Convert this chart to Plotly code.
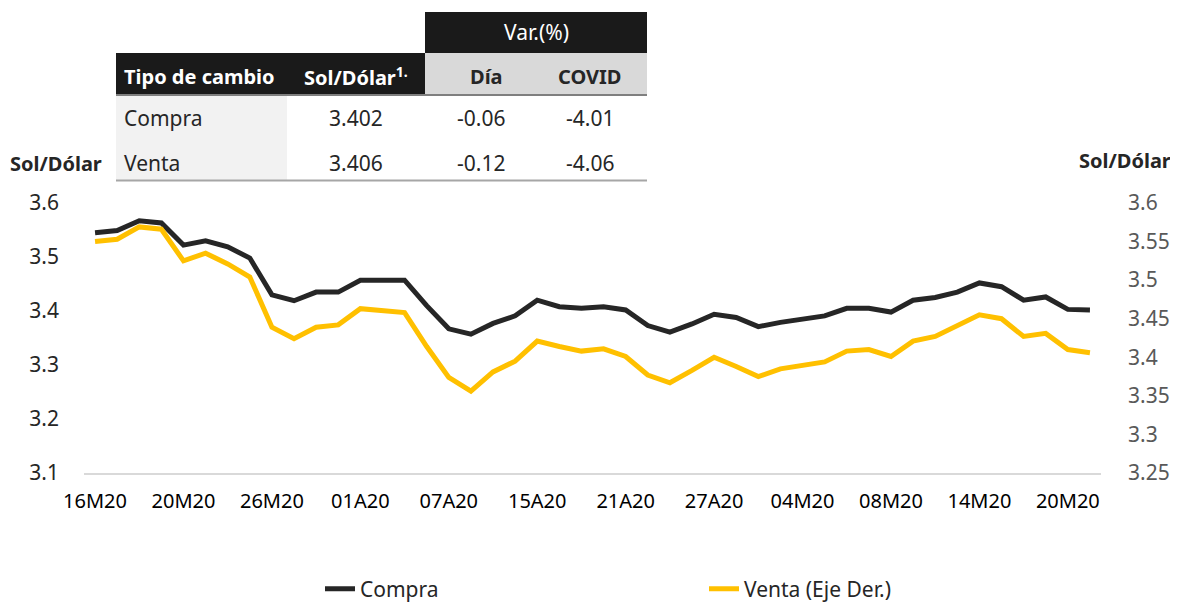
import plotly.graph_objects as go

# ---------------- data ----------------
dates = ["16M20", "17M20", "18M20", "19M20", "20M20", "23M20", "24M20", "25M20",
         "26M20", "27M20", "30M20", "31M20", "01A20", "02A20", "03A20", "06A20",
         "07A20", "08A20", "13A20", "14A20", "15A20", "16A20", "17A20", "20A20",
         "21A20", "22A20", "23A20", "24A20", "27A20", "28A20", "29A20", "30A20",
         "04M20", "05M20", "06M20", "07M20", "08M20", "11M20", "12M20", "13M20",
         "14M20", "15M20", "18M20", "19M20", "20M20", "21M20"]

compra = [3.545, 3.549, 3.567, 3.563, 3.522, 3.530, 3.519, 3.498,
          3.430, 3.419, 3.435, 3.435, 3.457, 3.457, 3.457, 3.410,
          3.367, 3.357, 3.377, 3.391, 3.420, 3.408, 3.405, 3.408,
          3.402, 3.373, 3.361, 3.376, 3.394, 3.388, 3.371, 3.379,
          3.386, 3.391, 3.405, 3.405, 3.398, 3.420, 3.425, 3.435,
          3.452, 3.445, 3.420, 3.426, 3.403, 3.402]

venta = [3.550, 3.553, 3.569, 3.566, 3.525, 3.535, 3.521, 3.504,
         3.439, 3.424, 3.439, 3.442, 3.463, 3.460, 3.458, 3.414,
         3.374, 3.356, 3.381, 3.395, 3.421, 3.414, 3.408, 3.411,
         3.401, 3.377, 3.367, 3.383, 3.400, 3.388, 3.375, 3.385,
         3.389, 3.394, 3.408, 3.410, 3.401, 3.421, 3.427, 3.441,
         3.455, 3.450, 3.427, 3.431, 3.410, 3.406]

tick_positions = [0, 4, 8, 12, 16, 20, 24, 28, 32, 36, 40, 44]
tick_labels = [dates[i] for i in tick_positions]

series_names = ["Compra", "Venta (Eje Der.)"]

table_header = ["Tipo de cambio", "Sol/Dólar<sup>1.</sup>", "Día", "COVID"]
table_group = "Var.(%)"
table_rows = ["Compra", "Venta"]
table_level = ["3.402", "3.406"]
table_dia = ["-0.06", "-0.12"]
table_covid = ["-4.01", "-4.06"]

# ---------------- layout geometry ----------------
# the page body adds an 8px margin, so the figure is drawn 8px smaller
OFF = 8
W, H = 1178 - OFF, 603 - OFF
# plot area in screen pixels
SL, SR, ST, SB = 84, 1101, 203, 473
PL, PR, PT, PB = SL - OFF, SR - OFF, ST - OFF, SB - OFF


def px(x):  # screen x -> paper
    return (x - SL) / (SR - SL)


def py(y):  # screen y -> paper
    return (SB - y) / (SB - ST)


FONT = "Noto Sans, sans-serif"
BLACK = "#262626"
YELLOW = "#FFC000"

xidx = list(range(len(dates)))

fig = go.Figure()
fig.add_trace(go.Scatter(x=xidx, y=compra, name=series_names[0], mode="lines",
                         text=dates, hovertemplate="%{text}: %{y:.3f}",
                         line=dict(color=BLACK, width=5), yaxis="y"))
fig.add_trace(go.Scatter(x=xidx, y=venta, name=series_names[1], mode="lines",
                         text=dates, hovertemplate="%{text}: %{y:.3f}",
                         line=dict(color=YELLOW, width=5), yaxis="y2"))

shapes = []
annotations = []


def rect(x0, y0, x1, y1, color):
    shapes.append(dict(type="rect", xref="paper", yref="paper",
                       x0=px(x0), x1=px(x1), y0=py(y0), y1=py(y1),
                       fillcolor=color, line=dict(width=0), layer="below"))


def hline(x0, x1, y, color, w):
    shapes.append(dict(type="line", xref="paper", yref="paper",
                       x0=px(x0), x1=px(x1), y0=py(y), y1=py(y),
                       line=dict(color=color, width=w)))


def text(x, y, s, size=21, color=BLACK, bold=False, xanchor="center"):
    if bold:
        s = "<b>" + s + "</b>"
    annotations.append(dict(xref="paper", yref="paper", x=px(x), y=py(y),
                            text=s, showarrow=False, xanchor=xanchor,
                            yanchor="middle",
                            font=dict(family=FONT, size=size, color=color)))


# table
rect(425, 12, 647, 53, "#1a1a1a")
rect(116, 53, 425, 94, "#1a1a1a")
rect(425, 53, 647, 94, "#d9d9d9")
rect(116, 96, 287, 180, "#f2f2f2")
hline(116, 647, 95, "#7f7f7f", 2)
hline(116, 647, 180.5, "#a6a6a6", 2)

text(536, 32, table_group, color="white")
text(122, 76, table_header[0], size=20, color="white", bold=True, xanchor="left")
text(356, 76, table_header[1], size=20, color="white", bold=True)
text(486, 76, table_header[2], size=20, bold=True)
text(589, 76, table_header[3], size=20, bold=True)
row_y = [118, 163]
for i in range(2):
    text(122, row_y[i], table_rows[i], xanchor="left")
    text(356, row_y[i], table_level[i])
    text(481, row_y[i], table_dia[i])
    text(590, row_y[i], table_covid[i])

# axis titles
text(56, 163, "Sol/Dólar", size=20, bold=True)
text(1125, 160, "Sol/Dólar", size=20, bold=True)

fig.update_layout(
    width=W, height=H,
    margin=dict(l=PL, r=W - PR, t=PT, b=H - PB, pad=0, autoexpand=False),
    plot_bgcolor="white", paper_bgcolor="white",
    font=dict(family=FONT, size=18, color=BLACK),
    showlegend=True,
    legend=dict(orientation="h", x=px(320), y=py(589), xanchor="left",
                yanchor="middle", entrywidth=339, entrywidthmode="pixels",
                font=dict(family=FONT, size=21, color=BLACK),
                bgcolor="rgba(0,0,0,0)"),
    xaxis=dict(range=[-0.5, len(dates) - 0.5],
               tickmode="array", tickvals=tick_positions,
               ticktext=tick_labels, showgrid=False, zeroline=False,
               showline=True, linecolor="#d9d9d9", linewidth=2,
               ticks="", ticklabelstandoff=9,
               tickfont=dict(family=FONT, size=20, color="#000000")),
    yaxis=dict(range=[3.1, 3.6], dtick=0.1, tick0=3.1, showgrid=False,
               zeroline=False, showline=False, ticks="",
               ticklabelstandoff=24,
               tickfont=dict(family=FONT, size=21, color=BLACK)),
    yaxis2=dict(range=[3.25, 3.6], dtick=0.05, tick0=3.25, overlaying="y",
                side="right", showgrid=False, zeroline=False, showline=False,
                ticks="", ticklabelstandoff=26,
                tickfont=dict(family=FONT, size=21, color="#595959")),
    shapes=shapes,
    annotations=annotations,
)

fig.write_html("out.html")
